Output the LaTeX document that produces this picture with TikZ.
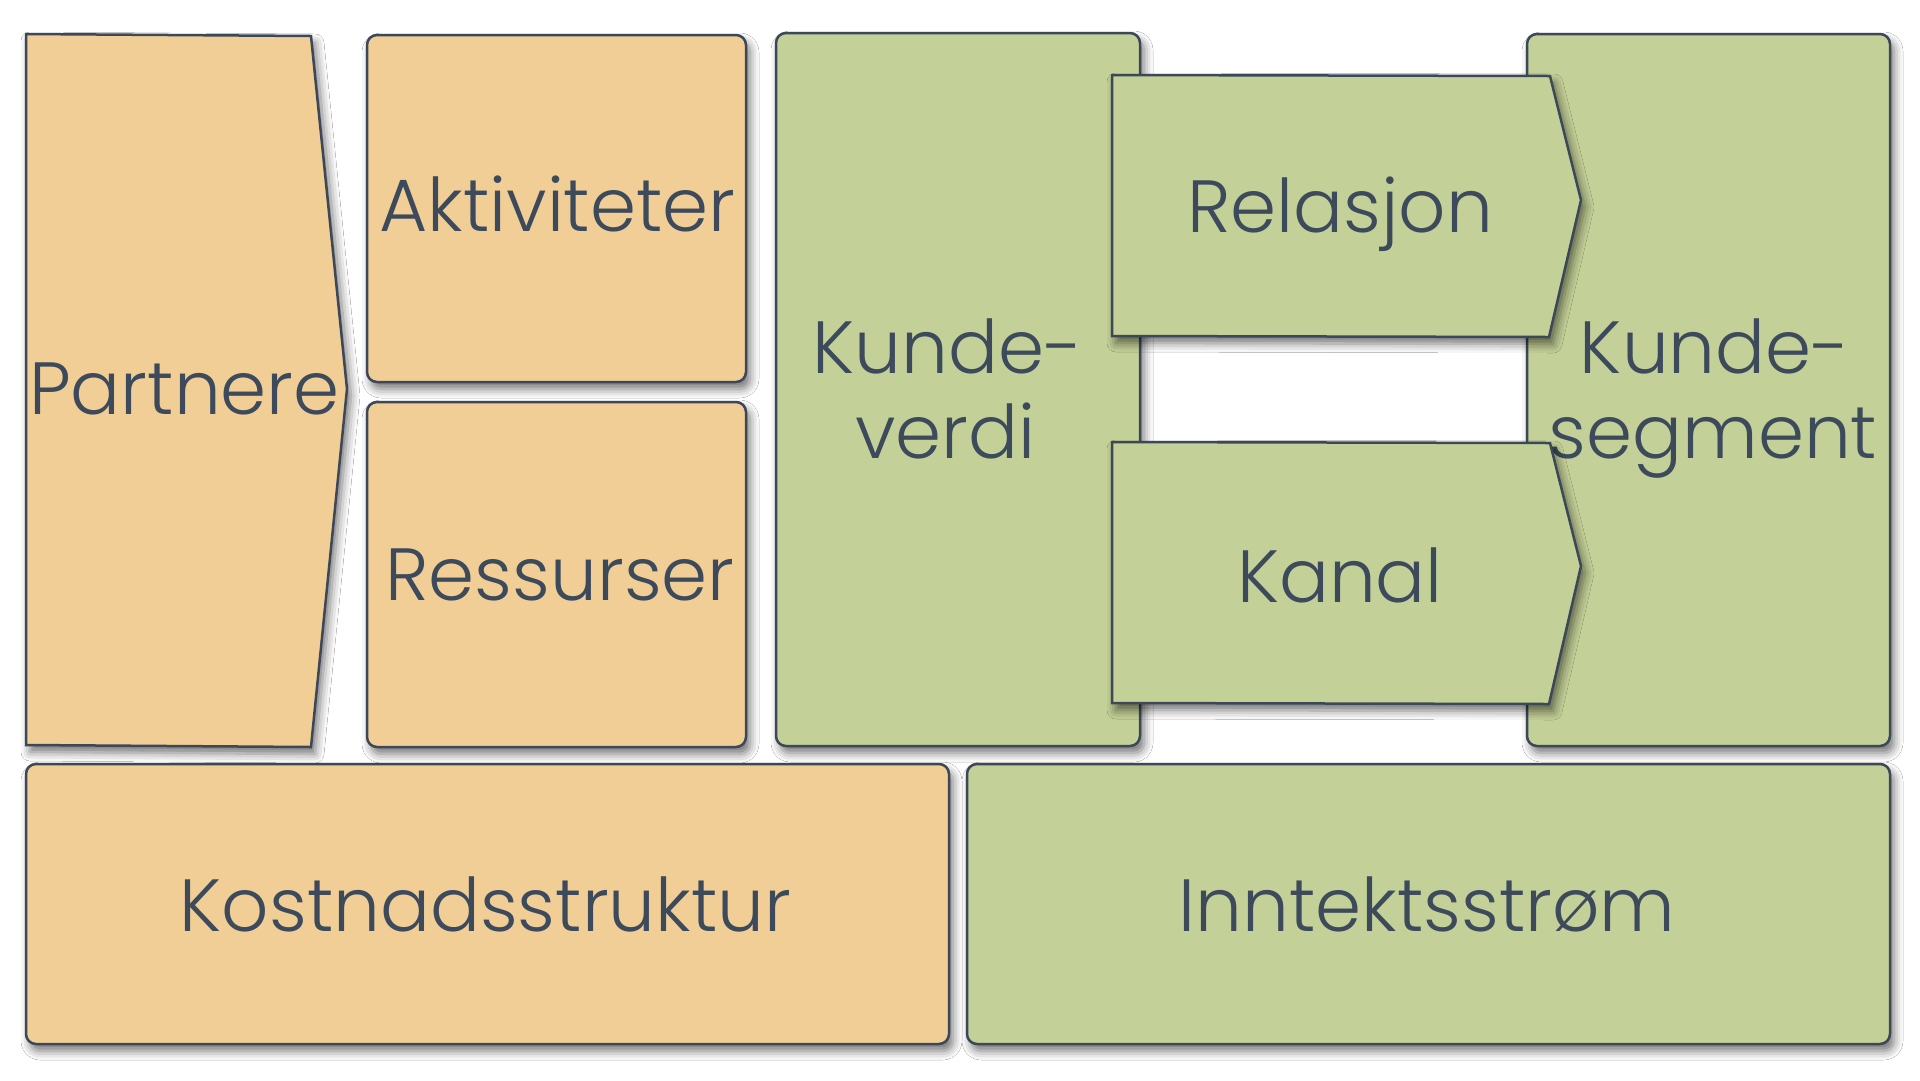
\documentclass[tikz,border=0pt]{standalone}
\usepackage{fontspec}
\setmainfont{Poppins Light}
\usetikzlibrary{shadows.blur}
\definecolor{edge}{HTML}{3C4858}
\definecolor{ink}{HTML}{3D4A5C}
\definecolor{peach}{HTML}{F0CE96}
\definecolor{sage}{HTML}{C3D097}
\tikzset{
  shad/.style={blur shadow={shadow xshift=4pt, shadow yshift=-7pt, shadow blur radius=9pt, shadow opacity=55}},
  card/.style={draw=edge, line width=2.5pt, rounded corners=10pt, shad},
  pent/.style={draw=edge, line width=2.5pt, line join=miter, shad},
  lbl/.style={text=ink, font=\fontsize{74}{85}\selectfont, inner sep=0pt, anchor=base},
}
\begin{document}
\begin{tikzpicture}[x=1pt,y=-1pt]
\useasboundingbox[fill=white] (0,0) rectangle (1920,1080);
% Partnere pentagon
\filldraw[pent, fill=peach] (26,34) -- (311,36) -- (347,389) -- (311,747) -- (26,745) -- cycle;
\node[lbl] (partnere) at (184.5,414) {Partnere};
% Aktiviteter / Ressurser
\node[card, fill=peach, minimum width=379pt, minimum height=347pt] (akt) at (556.5,208.5) {};
\node[lbl] (aktt) at (557.5,231.5) {Aktiviteter};
\node[card, fill=peach, minimum width=379pt, minimum height=345pt] (res) at (556.5,574.5) {};
\node[lbl] (rest) at (560,600) {Ressurser};
% Kundeverdi
\node[card, fill=sage, minimum width=364pt, minimum height=713pt] (kv) at (958,389.5) {};
\node[lbl] (kv1) at (948,373) {Kunde-};
\node[lbl] (kv2) at (945.5,458) {verdi};
% Kundesegment
\node[card, fill=sage, minimum width=363pt, minimum height=712pt] (ks) at (1708.5,390) {};
\node[lbl] (ks1) at (1715,373) {Kunde-};
\node[lbl] (ks2) at (1713,458) {segment};
% Relasjon / Kanal
\filldraw[pent, fill=sage] (1112,75) -- (1550,76) -- (1581,200) -- (1549,337) -- (1112,336) -- cycle;
\node[lbl] (rel) at (1340,232) {Relasjon};
\filldraw[pent, fill=sage] (1112,442) -- (1550,443) -- (1581,566) -- (1549,704) -- (1112,703) -- cycle;
\node[lbl] (kanal) at (1340,602) {Kanal};
% Bottom row
\node[card, fill=peach, minimum width=923pt, minimum height=280pt] (kost) at (487.5,904) {};
\node[lbl] (kostt) at (485.5,931) {Kostnadsstruktur};
\node[card, fill=sage, minimum width=923pt, minimum height=280pt] (inn) at (1428.5,904) {};
\node[lbl] (innt) at (1427,931) {Inntektsstrøm};
\end{tikzpicture}
\end{document}
